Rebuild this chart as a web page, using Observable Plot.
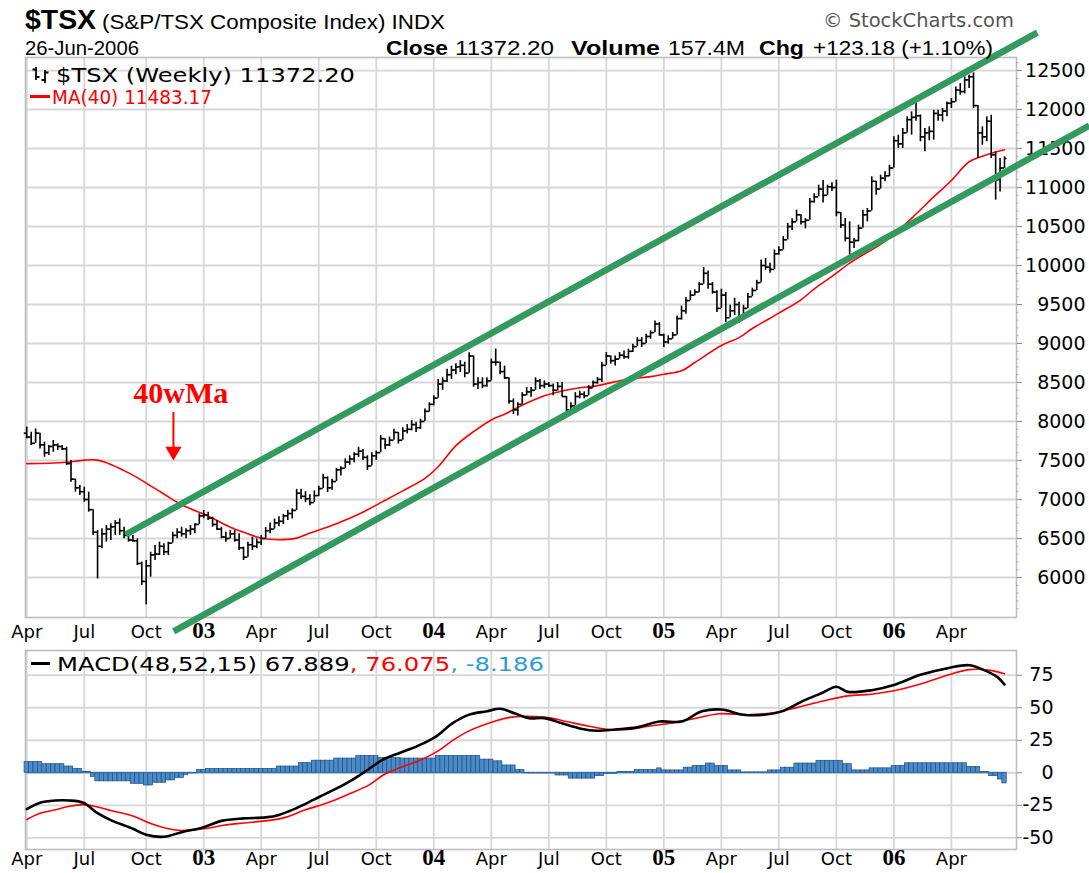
<!DOCTYPE html>
<html><head><meta charset="utf-8"><title>$TSX weekly</title>
<script src="https://cdn.jsdelivr.net/npm/d3@7"></script>
<script src="https://cdn.jsdelivr.net/npm/@observablehq/plot@0.6"></script>
<style>
html,body{margin:0;padding:0;background:#fff;}
#wrap{position:relative;width:1089px;height:873px;overflow:hidden;background:#fff;}
.t{position:absolute;white-space:nowrap;line-height:1;font-family:"Liberation Sans",Arial,sans-serif;color:#000;transform-origin:0 50%;}
.v{font-family:"DejaVu Sans",Verdana,sans-serif;}
#main,#macd{position:absolute;left:0;}
</style></head><body>
<div id="wrap">
<div id="main" style="top:57px"></div>
<div id="macd" style="top:645px"></div>
<div class="t" data-w="71" style="left:25px;top:6px;font-size:28px;font-weight:bold">$TSX</div>
<div class="t" data-w="343" style="left:102px;top:12px;font-size:20px">(S&amp;P/TSX Composite Index) INDX</div>
<div class="t v" data-w="191" style="left:823px;top:11px;font-size:19px;color:#555">© StockCharts.com</div>
<div class="t" data-w="114" style="left:25px;top:38px;font-size:20px">26-Jun-2006</div>
<div class="t" data-w="62" style="left:386px;top:38px;font-size:20px;font-weight:bold">Close</div>
<div class="t" data-w="99" style="left:455px;top:38px;font-size:20px">11372.20</div>
<div class="t" data-w="89" style="left:571px;top:38px;font-size:20px;font-weight:bold">Volume</div>
<div class="t" data-w="77" style="left:668px;top:38px;font-size:20px">157.4M</div>
<div class="t" data-w="45" style="left:759px;top:38px;font-size:20px;font-weight:bold">Chg</div>
<div class="t" data-w="180" style="left:813px;top:38px;font-size:20px">+123.18 (+1.10%)</div>
<svg style="position:absolute;left:30px;top:66px" width="22" height="18" viewBox="0 0 22 18">
 <g stroke="#000" stroke-width="1.8" fill="none"><path d="M6 1V14M2.5 3.5H6M6 11H9.5"/><path d="M15 4V17M11.5 14H15M15 6.5H18.5"/></g></svg>
<div class="t v" data-w="299" style="left:56px;top:66px;font-size:19px">$TSX (Weekly) 11372.20</div>
<div style="position:absolute;left:30px;top:95px;width:20px;height:3px;background:#f00"></div>
<div class="t v" data-w="160" style="left:52px;top:88px;font-size:19px;color:#f00">MA(40) 11483.17</div>
<div style="position:absolute;left:31px;top:662px;width:19px;height:3px;background:#000"></div>
<div class="t v" data-w="487" style="left:57px;top:655px;font-size:19px">MACD(48,52,15) 67.889<span style="color:#f00">, 76.075</span><span style="color:#39d">, -8.186</span></div>
</div>
<script>
// ---------- data: weekly bars from the week of 1 Apr 2002 to the week of 26 Jun 2006 ----------
const firstWeek = "2002-04-01";
const firstOpen = 7850;
const high = [
7927,7863,7905,7777,7735,7692,7756,7713,7692,7670,
7500,7243,7179,7158,7094,6859,6600,6624,6666,6688,
6730,6752,6645,6581,6538,6495,6196,6218,6324,6410,
6453,6431,6453,6581,6624,6645,6624,6666,6688,6816,
6859,6837,6773,6730,6645,6581,6602,6602,6560,6389,
6453,6517,6495,6538,6640,6700,6750,6780,6810,6860,
6880,7130,7130,7100,7060,7110,7170,7320,7290,7260,
7400,7420,7520,7560,7600,7670,7640,7560,7600,7620,
7820,7780,7800,7900,7860,7920,7960,8010,7990,8030,
8160,8240,8330,8540,8560,8670,8710,8740,8780,8760,
8880,8840,8560,8560,8560,8800,8930,8740,8710,8480,
8290,8240,8370,8435,8435,8560,8540,8520,8500,8480,
8500,8500,8320,8240,8370,8390,8380,8460,8520,8564,
8756,8884,8841,8841,8884,8905,8927,8991,9076,9076,
9120,9162,9290,9269,9120,9098,9141,9354,9480,9589,
9675,9690,9782,9974,9931,9782,9675,9696,9654,9490,
9580,9530,9490,9640,9710,9810,10070,10090,10030,10200,
10240,10370,10540,10600,10710,10650,10600,10860,10920,11030,
11090,11030,11060,11094,10624,10602,10560,10346,10517,10709,
10731,11137,11051,11158,11201,11286,11650,11671,11757,11906,
11970,12077,11930,11757,11778,11991,11991,12013,12098,12141,
12290,12333,12419,12440,12470,12050,11778,11906,11927,11457,
11372,11393];
const low = [
7777,7692,7735,7649,7542,7564,7606,7628,7628,7436,
7222,7094,7051,6965,6837,6538,5982,6367,6453,6474,
6538,6538,6496,6453,6453,6153,5897,5649,6004,6218,
6282,6282,6282,6453,6496,6517,6496,6538,6560,6688,
6752,6730,6645,6602,6496,6453,6496,6453,6346,6218,
6282,6346,6367,6410,6510,6560,6620,6650,6680,6730,
6750,6960,7000,6960,6920,6980,7040,7170,7090,7120,
7250,7300,7400,7440,7470,7540,7500,7370,7450,7500,
7620,7640,7680,7770,7710,7790,7840,7880,7860,7900,
8030,8120,8200,8330,8400,8500,8540,8600,8630,8560,
8700,8440,8410,8420,8440,8520,8710,8600,8540,8220,
8090,8070,8220,8330,8310,8460,8410,8420,8435,8330,
8390,8350,8090,8160,8220,8290,8290,8350,8440,8478,
8500,8756,8735,8713,8799,8799,8799,8884,8970,8948,
9000,9055,9162,9098,8948,8991,9055,9141,9300,9376,
9547,9611,9654,9760,9696,9632,9397,9504,9269,9340,
9360,9260,9400,9530,9620,9700,9920,9940,9900,10090,
10130,10220,10390,10450,10600,10520,10470,10750,10800,10900,
10800,10900,10950,10624,10474,10303,10133,10218,10303,10517,
10560,10731,10902,11008,11073,11137,11286,11500,11500,11700,
11671,11850,11586,11457,11600,11607,11850,11842,11906,12013,
12098,12184,12200,12270,12013,11372,11543,11586,11372,10838,
10944,11244];
const close = [
7800,7720,7850,7700,7600,7680,7700,7680,7650,7460,
7260,7150,7100,7000,6870,6580,6400,6560,6620,6650,
6700,6600,6540,6480,6470,6180,5950,6150,6290,6300,
6400,6330,6440,6540,6580,6560,6600,6620,6680,6790,
6800,6760,6680,6620,6520,6500,6560,6480,6380,6260,
6420,6400,6450,6500,6600,6620,6700,6720,6790,6820,
6860,7080,7040,7010,6960,7050,7140,7280,7150,7230,
7380,7400,7480,7520,7580,7620,7540,7430,7560,7600,
7780,7700,7760,7860,7760,7880,7900,7960,7920,8000,
8130,8220,8300,8480,8520,8600,8660,8700,8720,8620,
8840,8480,8500,8460,8520,8760,8760,8640,8560,8260,
8150,8220,8340,8380,8400,8520,8460,8480,8460,8400,
8450,8320,8150,8200,8320,8350,8330,8430,8500,8540,
8720,8840,8780,8800,8850,8830,8900,8960,9040,9000,
9090,9140,9250,9110,9020,9060,9110,9320,9420,9550,
9620,9660,9760,9900,9760,9660,9450,9620,9330,9420,
9500,9300,9450,9600,9680,9780,10000,9980,9950,10150,
10200,10330,10500,10560,10650,10560,10580,10820,10880,10980,
10900,11010,11000,10680,10520,10350,10300,10320,10480,10650,
10700,11080,10980,11120,11150,11250,11600,11560,11700,11870,
11900,11920,11650,11700,11720,11950,11930,11980,12080,12100,
12250,12230,12380,12420,12050,11700,11650,11850,11420,11100,
11249.02,11372.20];

// 40-week moving average (week index, value)
const maWeeks  = [0,5,9,13,16,19,22,25,28,31,34,37,40,43,46,49,52,55,58,61,64,70,75,80,85,90,93,97,101,105,108,112,117,123,129,136,141,144,148,151,157,161,164,170,175,178,182,186,190,193,197,201,205,209,213,216,219,221];
const maValues = [7460,7465,7478,7505,7505,7450,7370,7280,7175,7070,6965,6880,6815,6730,6645,6580,6520,6490,6485,6505,6570,6690,6810,6960,7110,7270,7420,7690,7870,8020,8093,8209,8329,8414,8460,8545,8575,8606,8650,8756,8975,9076,9192,9390,9560,9700,9860,10030,10170,10270,10450,10660,10880,11090,11330,11400,11455,11483.17];

// MACD(48,52,15) line and signal line (week index, value)
const macdWeeks  = [0,3,6.5,9.6,12.8,16,19,24,27,31,35,40,44,49,54,57,61,65,69,73,77,80.5,84.4,88.4,92.3,96.2,100,104,107,110.4,113.5,117,121,125,129,133,138,143,148,152.6,157,162,166.7,170.7,175.4,180,183,185.6,191,196,202,208.4,213,216,219.4,221];
const macdValues = [-28,-23,-21.3,-21.3,-23.1,-31,-36.4,-43.1,-47.6,-49.2,-45.7,-41.8,-37,-35.1,-34.3,-32.4,-27.1,-20.5,-13.8,-6.6,2.1,10.1,15.4,20.7,27.4,38,44.7,47.3,49.2,45.5,42,42,38,34.1,32.3,33.3,34.9,39.4,39.4,47.2,48.6,44.6,44.6,47.2,55.1,61.7,66.1,62.2,63.5,67.5,75.3,80.6,82.7,79.5,73.5,67.889];
const signalWeeks  = [0,3,6.5,9.6,12.8,16,19,24,28,32,35,40,44.4,49,54,58.5,63,68,72.7,77.4,80.5,85,88.4,93,96.2,100,105.6,109.6,117,122,126.7,131.4,136,140.8,145.5,150.2,156.5,162.8,168.3,173.8,180,185.6,191,196,202,208.4,213,217.8,221];
const signalValues = [-35.9,-31.1,-28.5,-25.8,-24.5,-26.3,-29,-33.2,-39.1,-43.1,-44.4,-43.1,-40.4,-38.6,-37,-34.3,-28.5,-23.1,-16.5,-9.3,-1.9,4.8,8.8,16.8,24.7,32.2,39.4,42.8,42.8,39.4,36,33.3,33.3,36,38.1,41.2,45.4,44.6,45.9,49.9,55.1,59.1,60.4,63,68.2,75.3,79.3,78.7,76.075];
// weekly MACD histogram
const histogram = [
8.2,8.2,8.2,8.2,6.6,6.6,6.6,6.6,6.6,4.8,
4.8,2.9,2.9,0.8,0.8,-3.2,-6.6,-6.6,-6.6,-6.6,
-6.6,-6.6,-6.6,-6.6,-8.5,-8.5,-8.5,-9.8,-9.8,-7.7,
-7.7,-7.7,-5.9,-5.9,-4,-4,-1.9,-0.5,-0.5,2.1,
2.1,2.9,2.9,2.9,2.9,2.9,2.9,2.9,2.9,2.9,
2.9,2.9,2.9,2.9,2.9,2.9,2.9,4.8,4.8,4.8,
4.8,4.8,7.4,7.4,7.4,9.3,9.3,9.3,9.3,9.3,
10.9,10.9,10.9,10.9,10.9,12.8,12.8,12.8,12.8,12.8,
11.4,11.4,11.4,11.4,11.4,10.9,10.9,10.9,10.9,10.9,
10.9,10.9,10.9,12.8,12.8,12.8,12.8,12.8,12.8,12.8,
12.8,12.8,12.8,10.1,10.1,10.1,8.8,8.8,5.6,5.6,
5.6,2.1,2.1,-0.5,-0.5,-0.5,-0.5,-0.5,-0.5,-0.5,
-2.1,-2.1,-2.1,-4.5,-4.5,-4.5,-4.5,-4.5,-4.5,-2.6,
-2.6,-0.8,-0.8,-0.8,0.5,0.5,0.5,0.5,2.1,2.1,
2.1,2.1,2.1,3.4,1.8,1.8,1.8,1.8,1.8,3.9,
3.9,5.2,5.2,5.2,7.1,7.1,5.2,5.2,5.2,1.8,
1.8,1.8,0.3,0.3,0.3,0.3,0.3,0.3,1.8,1.8,
1.8,3.9,3.9,3.9,7.1,7.1,7.1,7.1,7.1,9.2,
9.2,9.2,9.2,9.2,9.2,6.6,6.6,1.8,1.8,1.8,
1.8,3.4,3.4,3.4,3.4,3.4,5.2,5.2,5.2,7.3,
7.3,7.3,7.3,7.3,7.3,7.3,7.3,7.3,7.3,7.3,
7.3,7.3,7.3,4.5,4.5,4.5,0.5,0.5,-2.6,-2.6,
-5.2,-8.2];

// axis ticks
const tickDays   = ["2002-04-01","2002-07-01","2002-10-07","2003-01-06","2003-04-07","2003-07-07","2003-10-06","2004-01-05","2004-04-05","2004-07-05","2004-10-04","2005-01-03","2005-04-04","2005-07-04","2005-10-03","2006-01-02","2006-04-03"];
const tickLabels = ["Apr","Jul","Oct","03","Apr","Jul","Oct","04","Apr","Jul","Oct","05","Apr","Jul","Oct","06","Apr"];
const priceTicks = [6000,6500,7000,7500,8000,8500,9000,9500,10000,10500,11000,11500,12000,12500];
const macdTicks  = [-50,-25,0,25,50,75];

// hand-drawn annotations (week index, price)
const channel = [
  {line:"upper", week:22.37, price:6551}, {line:"upper", week:228.43, price:12987},
  {line:"lower", week:33.21, price:5308}, {line:"lower", week:240.18, price:11795}
];
const note = {label:"40wMa", week:34.8, price:8231, arrowWeek:33.15, arrowTop:8115, arrowHead:7618};

// ---------- build ----------
const DAY = 864e5;
const W0 = Date.parse(firstWeek + "T00:00:00Z");
const wk = k => new Date(W0 + k * 7 * DAY);
const shift = (d, days) => new Date(+d + days * DAY);
const xDomain = [new Date(Date.UTC(2002,2,30)), new Date(Date.UTC(2006,6,15))];

const bars = close.map((c, i) => {
  const open = i ? close[i-1] : firstOpen;
  return {date: wk(i), open, close: c, hi: Math.max(high[i], open, c), lo: Math.min(low[i], open, c)};
});
const ma = maWeeks.map((k, i) => ({date: wk(k), v: maValues[i]}));
const macdLines = [
  ...macdWeeks.map((k, i) => ({s:"macd", date: wk(k), v: macdValues[i]})),
  ...signalWeeks.map((k, i) => ({s:"signal", date: wk(k), v: signalValues[i]}))
];
const hist = histogram.map((v, i) => ({date: wk(i), v}));
const ticks = tickDays.map((s, i) => ({date: new Date(s + "T00:00:00Z"), label: tickLabels[i], year: /^\d/.test(tickLabels[i])}));
const tickDates = ticks.map(t => t.date);
const chan = channel.map(d => ({line: d.line, date: wk(d.week), v: d.price}));
const minorTicks = d3.range(5500, 12700, 100).filter(v => v % 500 !== 0);

const GRID = "#d7d7d7", GREEN = "#33995f";
const labelMarks = (dy) => [
  Plot.text(ticks.filter(t => !t.year), {x: "date", text: "label", frameAnchor: "bottom", dy, fontSize: 18, fontFamily: "DejaVu Sans", fill: "#000"}),
  Plot.text(ticks.filter(t => t.year), {x: "date", text: "label", frameAnchor: "bottom", dy, fontSize: 23, fontWeight: "bold", fontFamily: "Liberation Serif", fill: "#000"})
];

const main = Plot.plot({
  width: 1089, height: 588,
  marginLeft: 25, marginRight: 73, marginTop: 0, marginBottom: 28,
  style: {overflow: "visible", background: "transparent"},
  x: {type: "utc", domain: xDomain, axis: null},
  y: {domain: [5487, 12667], axis: null, label: null},
  marks: [
    Plot.gridY(priceTicks, {stroke: GRID, strokeOpacity: 1, strokeWidth: 1.8}),
    Plot.gridX(tickDates, {stroke: GRID, strokeOpacity: 1, strokeWidth: 1.8}),
    Plot.frame({stroke: "#bdbdbd", strokeWidth: 1.6}),
    Plot.axisY(priceTicks, {anchor: "right", label: null, tickFormat: d => String(d), tickSize: 5, tickPadding: 64, textAnchor: "end", fontSize: 19, fontFamily: "DejaVu Sans", stroke: "#888", fill: "#000"}),
    Plot.ruleY(minorTicks, {y: d => d, x1: () => xDomain[1], x2: () => shift(xDomain[1], 4), stroke: "#aaa", strokeWidth: 1}),
    ...labelMarks(20),
    Plot.line(ma, {x: "date", y: "v", stroke: "#ff0000", strokeWidth: 1.6, curve: "catmull-rom"}),
    Plot.ruleX(bars, {x: "date", y1: "lo", y2: "hi", stroke: "#000", strokeWidth: 1.6}),
    Plot.ruleY(bars, {y: "open", x1: d => shift(d.date, -4), x2: "date", stroke: "#000", strokeWidth: 1.6}),
    Plot.ruleY(bars, {y: "close", x1: "date", x2: d => shift(d.date, 4), stroke: "#000", strokeWidth: 1.6}),
    Plot.line(chan, {x: "date", y: "v", z: "line", stroke: GREEN, strokeWidth: 6.5, strokeLinecap: "butt"}),
    Plot.text([note], {x: d => wk(d.week), y: "price", text: "label", fill: "#ff0000", fontSize: 30, fontWeight: "bold", fontFamily: "Liberation Serif", lineAnchor: "bottom"}),
    Plot.ruleX([note], {x: d => wk(d.arrowWeek), y1: "arrowTop", y2: "arrowHead", stroke: "#ff0000", strokeWidth: 2}),
    Plot.dot([note], {x: d => wk(d.arrowWeek), y: "arrowHead", symbol: "triangle", r: 6, rotate: 180, fill: "#ff0000", stroke: "none"})
  ]
});
document.getElementById("main").append(main);

const macd = Plot.plot({
  width: 1089, height: 228,
  marginLeft: 25, marginRight: 73, marginTop: 5, marginBottom: 24,
  style: {overflow: "visible", background: "transparent"},
  x: {type: "utc", domain: xDomain, axis: null},
  y: {domain: [-59, 94], axis: null, label: null},
  marks: [
    Plot.gridY(macdTicks, {stroke: GRID, strokeOpacity: 1, strokeWidth: 1.8}),
    Plot.gridX(tickDates, {stroke: GRID, strokeOpacity: 1, strokeWidth: 1.8}),
    Plot.frame({stroke: "#bdbdbd", strokeWidth: 1.6}),
    Plot.axisY(macdTicks, {anchor: "right", label: null, tickFormat: d => String(d), tickSize: 5, tickPadding: 32, textAnchor: "end", fontSize: 19, fontFamily: "DejaVu Sans", stroke: "#888", fill: "#000"}),
    ...labelMarks(15),
    Plot.rect(hist, {x1: d => shift(d.date, -3.5), x2: d => shift(d.date, 3.5), y1: () => 0, y2: "v", fill: "#4b8bc8", stroke: "#1f4f82", strokeWidth: 0.7}),
    Plot.ruleY([0], {x1: () => wk(0), x2: () => wk(221), stroke: "#2f6fae", strokeWidth: 1.2}),
    Plot.line(macdLines, {filter: d => d.s === "signal", x: "date", y: "v", stroke: "#ff0000", strokeWidth: 1.6, curve: "catmull-rom"}),
    Plot.line(macdLines, {filter: d => d.s === "macd", x: "date", y: "v", stroke: "#000", strokeWidth: 2.6, curve: "catmull-rom"})
  ]
});
document.getElementById("macd").append(macd);

document.querySelectorAll("[data-w]").forEach(el => {
  const w = el.getBoundingClientRect().width;
  if (w > 0) el.style.transform = `scaleX(${(+el.dataset.w / w).toFixed(4)})`;
});
</script>
</body></html>
